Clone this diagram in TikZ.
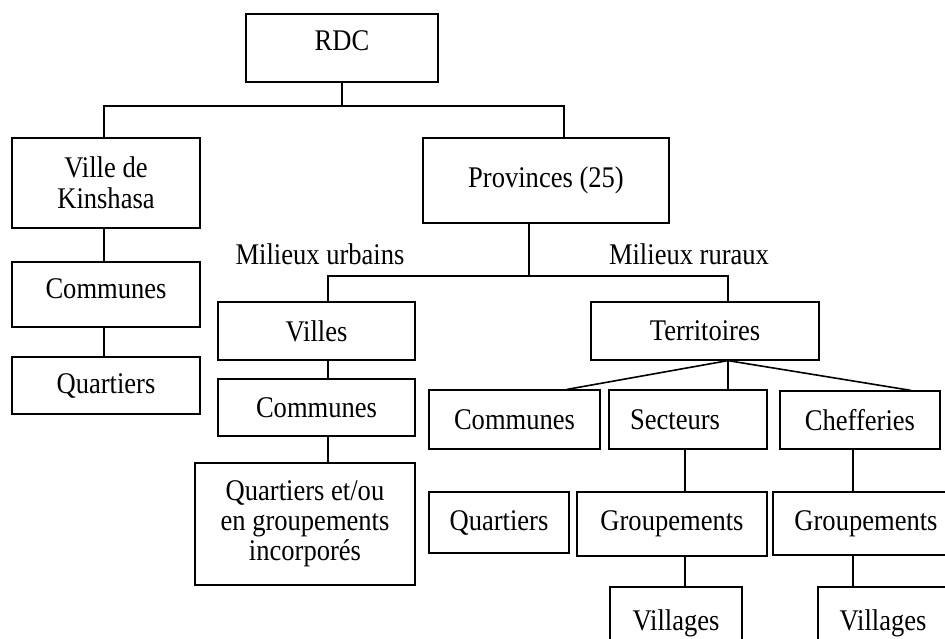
\documentclass[tikz,border=0pt]{standalone}
\usepackage{fontspec}
\setmainfont{Liberation Serif}[FakeStretch=0.885]
\usetikzlibrary{positioning}

\tikzset{
        box/.style={draw, line width=1.2pt, inner sep=0pt, align=center, font=\fontsize{30}{30}\selectfont},
        lbl/.style={inner sep=0pt, font=\fontsize{30}{30}\selectfont},
        link/.style={line width=1.1pt},
}

\begin{document}
\begin{tikzpicture}[x=1pt, y=-1pt]
        \clip (0,0) rectangle (945,638);

        \node[box, minimum width=192pt, minimum height=68pt, text depth=14pt] (rdc) at (342,48) {RDC};
        \node[box, minimum width=188pt, minimum height=90pt] (kin) at (106,183) {Ville de\\[1pt]Kinshasa};
        \node[box, minimum width=246pt, minimum height=85pt] (prov) at (546,180.5) {Provinces (25)};
        \node[box, minimum width=188pt, minimum height=65pt, text depth=12pt] (comkin) at (106,294.5) {Communes};
        \node[box, minimum width=188pt, minimum height=57pt] (quarkin) at (106,385.5) {Quartiers};

        \node[lbl] (urb) at (320,254) {Milieux urbains};
        \node[lbl] (rur) at (689,254) {Milieux ruraux};

        \node[box, minimum width=197pt, minimum height=58pt] (villes) at (316.5,331) {Villes};
        \node[box, minimum width=197pt, minimum height=57pt] (comurb) at (316.5,407.5) {Communes};
        \node[box, minimum width=220pt, minimum height=122pt] (quarurb) at (305,524) {Quartiers et/ou\\en groupements\\incorpor\'es};

        \node[box, minimum width=228pt, minimum height=58pt] (terr) at (705,331) {Territoires};
        \node[box, minimum width=171pt, minimum height=59pt] (comrur) at (514.5,419.5) {Communes};
        \node[box, minimum width=158pt, minimum height=59pt] (sect) at (688,419.5) {Secteurs\hspace*{26pt}};
        \node[box, minimum width=160pt, minimum height=58pt] (chef) at (860,420) {Chefferies};
        \node[box, minimum width=140pt, minimum height=61pt] (quarrur) at (499,522.5) {Quartiers};
        \node[box, minimum width=190pt, minimum height=64pt] (grpsect) at (672,524) {Groupements};
        \node[box, minimum width=186pt, minimum height=63pt] (grpchef) at (866,523.5) {Groupements};
        \node[box, minimum width=132pt, minimum height=72pt] (vilsect) at (676,623) {Villages};
        \node[box, minimum width=130pt, minimum height=72pt] (vilchef) at (883,623) {Villages};

        \coordinate (topbus) at (342,106);
        \coordinate (midbus) at (529,276);

        \draw[link] (rdc.south) -- (topbus);
        \draw[link] ([xshift=-2pt]kin.north) |- (topbus) -| ([xshift=18pt]prov.north);
        \draw[link] ([xshift=-2pt]kin.south) -- ([xshift=-2pt]comkin.north);
        \draw[link] ([xshift=-2pt]comkin.south) -- ([xshift=-2pt]quarkin.north);

        \draw[link] ([xshift=-17pt]prov.south) -- (midbus);
        \draw[link] ([xshift=11.5pt]villes.north) |- (midbus) -| ([xshift=23pt]terr.north);
        \draw[link] ([xshift=11.5pt]villes.south) -- ([xshift=11.5pt]comurb.north);
        \draw[link] ([xshift=11.5pt]comurb.south) -- ([xshift=23pt]quarurb.north);

        \draw[line width=1.6pt] ([xshift=23pt]terr.south) -- ([xshift=52.5pt]comrur.north);
        \draw[link] ([xshift=23pt]terr.south) -- ([xshift=40pt]sect.north);
        \draw[line width=1.6pt] ([xshift=23pt]terr.south) -- ([xshift=51pt]chef.north);

        \draw[link] ([xshift=-3pt]sect.south) -- ([xshift=13pt]grpsect.north);
        \draw[link] ([xshift=13pt]grpsect.south) -- ([xshift=9pt]vilsect.north);
        \draw[link] ([xshift=-7pt]chef.south) -- ([xshift=-13pt]grpchef.north);
        \draw[link] ([xshift=-13pt]grpchef.south) -- ([xshift=-30pt]vilchef.north);
\end{tikzpicture}
\end{document}
